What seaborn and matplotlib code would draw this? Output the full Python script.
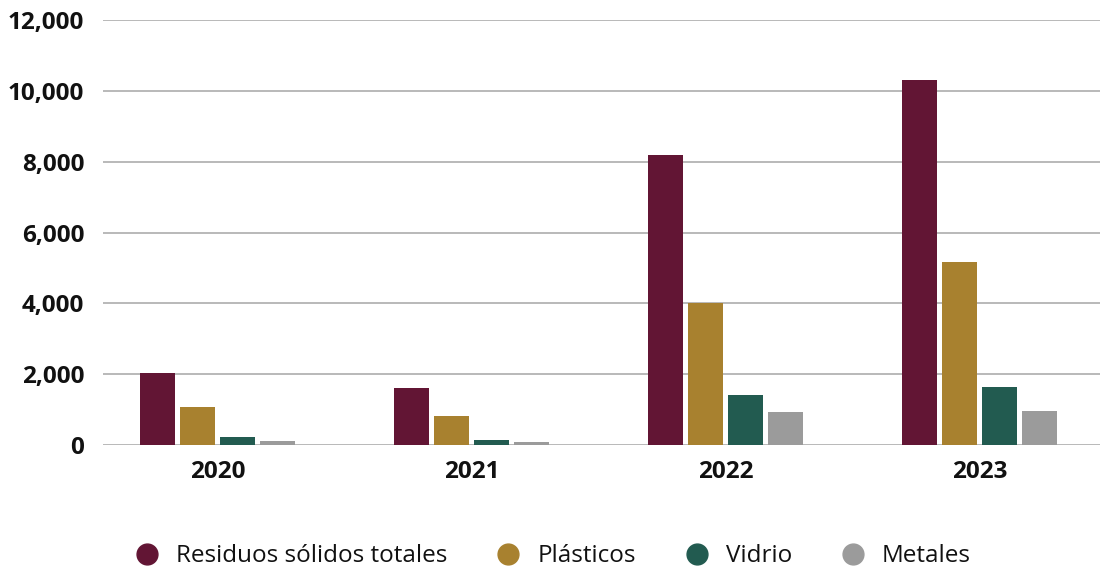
import matplotlib
matplotlib.use("Agg")
import matplotlib.pyplot as plt
from matplotlib.lines import Line2D
from matplotlib.ticker import FuncFormatter, MultipleLocator
import seaborn as sns
import pandas as pd

# Waste volumes by year and category
years = ["2020", "2021", "2022", "2023"]
categories = ["Residuos sólidos totales", "Plásticos", "Vidrio", "Metales"]
residuos = [2030, 1605, 8190, 10310]
plasticos = [1066, 812, 4000, 5165]
vidrio = [218, 133, 1405, 1631]
metales = [124, 76, 924, 953]
colors = ["#621534", "#A8812F", "#225B50", "#9B9B9B"]

series = [residuos, plasticos, vidrio, metales]
df = pd.DataFrame(
    [(y, c, v) for c, vals in zip(categories, series) for y, v in zip(years, vals)],
    columns=["year", "category", "value"],
)

sns.set_theme(style="white")
plt.rcParams["font.family"] = ["Open Sans", "DejaVu Sans"]

fig = plt.figure(figsize=(11.06, 5.69), dpi=100)
ax = fig.add_axes([0.0931, 0.218, 0.9015, 0.7463])

sns.barplot(
    data=df, x="year", y="value", hue="category",
    order=years, hue_order=categories, palette=colors,
    width=0.63, gap=0.125, saturation=1, errorbar=None,
    linewidth=0, legend=False, ax=ax, zorder=3,
)

ax.set_ylim(0, 12000)
ax.set_xlim(-0.451, 3.474)
ax.yaxis.set_major_locator(MultipleLocator(2000))
ax.yaxis.set_major_formatter(FuncFormatter(lambda v, _: f"{v:,.0f}"))
ax.grid(axis="y", color="#A6A6A6", linewidth=1.1, zorder=0)
ax.set_axisbelow(True)
for s in ax.spines.values():
    s.set_visible(False)
ax.set_xlabel("")
ax.set_ylabel("")
ax.tick_params(axis="both", length=0, labelsize=17.5, colors="#111111")
ax.tick_params(axis="y", pad=13.5)
ax.tick_params(axis="x", pad=11)
for lab in ax.get_xticklabels() + ax.get_yticklabels():
    lab.set_fontweight("bold")

handles = [
    Line2D([], [], linestyle="none", marker="o", markersize=15,
           markerfacecolor=c, markeredgecolor=c)
    for c in colors
]
fig.legend(
    handles, categories, loc="center", bbox_to_anchor=(0.5, 0.022),
    ncol=4, frameon=False, fontsize=17.5, handlelength=1.0,
    handletextpad=0.7, columnspacing=2.0, labelcolor="#111111",
)

fig.savefig("out.png", dpi=100)
